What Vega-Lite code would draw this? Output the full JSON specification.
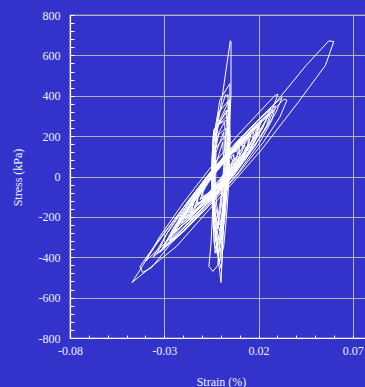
{
"$schema": "https://vega.github.io/schema/vega-lite/v6.json",
"width": 296, "height": 323,
"autosize": {"type": "none"},
"padding": {"left": 70, "top": 15, "right": 0, "bottom": 49},
"background": "#3333cc",
"config": {"view": {"stroke": "white", "strokeWidth": 1.2, "fill": "#3333cc"}, "font": "Liberation Serif"},
"data": {"values": [
{"k":1,"i":0,"x":-0.0471,"y":-525},{"k":1,"i":1,"x":-0.0235,"y":-346},{"k":1,"i":2,"x":-0.0008,"y":-107},{"k":1,"i":3,"x":0.0215,"y":132},{"k":1,"i":4,"x":0.0413,"y":371},{"k":1,"i":5,"x":0.0555,"y":551},{"k":1,"i":6,"x":0.0599,"y":668},{"k":1,"i":7,"x":0.0573,"y":672},{"k":1,"i":8,"x":0.0453,"y":551},{"k":1,"i":9,"x":0.0295,"y":371},{"k":1,"i":10,"x":0.0045,"y":132},{"k":1,"i":11,"x":-0.0161,"y":-107},{"k":1,"i":12,"x":-0.035,"y":-346},{"k":1,"i":13,"x":-0.0471,"y":-525},
{"k":2,"i":0,"x":-0.0367,"y":-451},{"k":2,"i":1,"x":-0.0268,"y":-335},{"k":2,"i":2,"x":-0.0084,"y":-167},{"k":2,"i":3,"x":0.008,"y":0},{"k":2,"i":4,"x":0.0224,"y":168},{"k":2,"i":5,"x":0.0313,"y":294},{"k":2,"i":6,"x":0.0351,"y":378},{"k":2,"i":7,"x":0.0335,"y":383},{"k":2,"i":8,"x":0.0243,"y":294},{"k":2,"i":9,"x":0.0105,"y":168},{"k":2,"i":10,"x":-0.006,"y":0},{"k":2,"i":11,"x":-0.021,"y":-167},{"k":2,"i":12,"x":-0.0345,"y":-335},{"k":2,"i":13,"x":-0.0429,"y":-446},{"k":2,"i":14,"x":-0.0415,"y":-475},{"k":2,"i":15,"x":-0.0367,"y":-451},
{"k":3,"i":0,"x":-0.04,"y":-420},{"k":3,"i":1,"x":-0.0257,"y":-296},{"k":3,"i":2,"x":-0.0091,"y":-131},{"k":3,"i":3,"x":0.0057,"y":34},{"k":3,"i":4,"x":0.0187,"y":200},{"k":3,"i":5,"x":0.0268,"y":323},{"k":3,"i":6,"x":0.0303,"y":406},{"k":3,"i":7,"x":0.029,"y":404},{"k":3,"i":8,"x":0.0208,"y":323},{"k":3,"i":9,"x":0.0085,"y":200},{"k":3,"i":10,"x":-0.0063,"y":34},{"k":3,"i":11,"x":-0.0199,"y":-131},{"k":3,"i":12,"x":-0.0323,"y":-296},{"k":3,"i":13,"x":-0.04,"y":-420},
{"k":4,"i":0,"x":-0.0323,"y":-376},{"k":4,"i":1,"x":-0.02,"y":-270},{"k":4,"i":2,"x":-0.0058,"y":-129},{"k":4,"i":3,"x":0.0069,"y":12},{"k":4,"i":4,"x":0.018,"y":154},{"k":4,"i":5,"x":0.025,"y":259},{"k":4,"i":6,"x":0.028,"y":330},{"k":4,"i":7,"x":0.0198,"y":259},{"k":4,"i":8,"x":0.0091,"y":154},{"k":4,"i":9,"x":-0.0036,"y":12},{"k":4,"i":10,"x":-0.0153,"y":-129},{"k":4,"i":11,"x":-0.0258,"y":-270},{"k":4,"i":12,"x":-0.0323,"y":-376},
{"k":5,"i":0,"x":-0.03,"y":-345},{"k":5,"i":1,"x":-0.0185,"y":-247},{"k":5,"i":2,"x":-0.0054,"y":-116},{"k":5,"i":3,"x":0.0063,"y":15},{"k":5,"i":4,"x":0.0164,"y":146},{"k":5,"i":5,"x":0.0225,"y":245},{"k":5,"i":6,"x":0.025,"y":310},{"k":5,"i":7,"x":0.0175,"y":245},{"k":5,"i":8,"x":0.0079,"y":146},{"k":5,"i":9,"x":-0.0037,"y":15},{"k":5,"i":10,"x":-0.0144,"y":-116},{"k":5,"i":11,"x":-0.024,"y":-247},{"k":5,"i":12,"x":-0.03,"y":-345},
{"k":6,"i":0,"x":-0.026,"y":-290},{"k":6,"i":1,"x":-0.0162,"y":-207},{"k":6,"i":2,"x":-0.0051,"y":-96},{"k":6,"i":3,"x":0.0049,"y":15},{"k":6,"i":4,"x":0.0135,"y":126},{"k":6,"i":5,"x":0.0188,"y":210},{"k":6,"i":6,"x":0.021,"y":265},{"k":6,"i":7,"x":0.0143,"y":210},{"k":6,"i":8,"x":0.0059,"y":126},{"k":6,"i":9,"x":-0.0041,"y":15},{"k":6,"i":10,"x":-0.0132,"y":-96},{"k":6,"i":11,"x":-0.0212,"y":-207},{"k":6,"i":12,"x":-0.026,"y":-290},
{"k":7,"i":0,"x":-0.023,"y":-250},{"k":7,"i":1,"x":-0.0139,"y":-177},{"k":7,"i":2,"x":-0.0038,"y":-80},{"k":7,"i":3,"x":0.0051,"y":17},{"k":7,"i":4,"x":0.0127,"y":114},{"k":7,"i":5,"x":0.0173,"y":187},{"k":7,"i":6,"x":0.019,"y":235},{"k":7,"i":7,"x":0.0131,"y":187},{"k":7,"i":8,"x":0.0055,"y":114},{"k":7,"i":9,"x":-0.0034,"y":17},{"k":7,"i":10,"x":-0.0115,"y":-80},{"k":7,"i":11,"x":-0.0186,"y":-177},{"k":7,"i":12,"x":-0.023,"y":-250},
{"k":8,"i":0,"x":-0.02,"y":-215},{"k":8,"i":1,"x":-0.0121,"y":-152},{"k":8,"i":2,"x":-0.0034,"y":-68},{"k":8,"i":3,"x":0.0043,"y":16},{"k":8,"i":4,"x":0.0108,"y":100},{"k":8,"i":5,"x":0.0147,"y":163},{"k":8,"i":6,"x":0.016,"y":205},{"k":8,"i":7,"x":0.0107,"y":163},{"k":8,"i":8,"x":0.004,"y":100},{"k":8,"i":9,"x":-0.0037,"y":16},{"k":8,"i":10,"x":-0.0106,"y":-68},{"k":8,"i":11,"x":-0.0165,"y":-152},{"k":8,"i":12,"x":-0.02,"y":-215},
{"k":9,"i":0,"x":-0.017,"y":-180},{"k":9,"i":1,"x":-0.0103,"y":-127},{"k":9,"i":2,"x":-0.0029,"y":-56},{"k":9,"i":3,"x":0.0035,"y":15},{"k":9,"i":4,"x":0.0089,"y":86},{"k":9,"i":5,"x":0.012,"y":140},{"k":9,"i":6,"x":0.013,"y":175},{"k":9,"i":7,"x":0.0085,"y":140},{"k":9,"i":8,"x":0.003,"y":86},{"k":9,"i":9,"x":-0.0035,"y":15},{"k":9,"i":10,"x":-0.0092,"y":-56},{"k":9,"i":11,"x":-0.0142,"y":-127},{"k":9,"i":12,"x":-0.017,"y":-180},
{"k":10,"i":0,"x":-0.014,"y":-150},{"k":10,"i":1,"x":-0.0085,"y":-106},{"k":10,"i":2,"x":-0.0024,"y":-47},{"k":10,"i":3,"x":0.0027,"y":12},{"k":10,"i":4,"x":0.007,"y":71},{"k":10,"i":5,"x":0.0094,"y":116},{"k":10,"i":6,"x":0.01,"y":145},{"k":10,"i":7,"x":0.0061,"y":116},{"k":10,"i":8,"x":0.0015,"y":71},{"k":10,"i":9,"x":-0.0038,"y":12},{"k":10,"i":10,"x":-0.0083,"y":-47},{"k":10,"i":11,"x":-0.0121,"y":-106},{"k":10,"i":12,"x":-0.014,"y":-150},
{"k":11,"i":0,"x":-0.011,"y":-115},{"k":11,"i":1,"x":-0.0066,"y":-81},{"k":11,"i":2,"x":-0.002,"y":-36},{"k":11,"i":3,"x":0.0019,"y":9},{"k":11,"i":4,"x":0.0051,"y":54},{"k":11,"i":5,"x":0.0067,"y":88},{"k":11,"i":6,"x":0.007,"y":110},{"k":11,"i":7,"x":0.004,"y":88},{"k":11,"i":8,"x":0.0004,"y":54},{"k":11,"i":9,"x":-0.0036,"y":9},{"k":11,"i":10,"x":-0.007,"y":-36},{"k":11,"i":11,"x":-0.0097,"y":-81},{"k":11,"i":12,"x":-0.011,"y":-115},
{"k":12,"i":0,"x":-0.036,"y":-400},{"k":12,"i":1,"x":-0.0221,"y":-281},{"k":12,"i":2,"x":-0.0061,"y":-123},{"k":12,"i":3,"x":0.0082,"y":36},{"k":12,"i":4,"x":0.0209,"y":194},{"k":12,"i":5,"x":0.029,"y":313},{"k":12,"i":6,"x":0.0325,"y":392},{"k":12,"i":7,"x":0.0232,"y":313},{"k":12,"i":8,"x":0.0112,"y":194},{"k":12,"i":9,"x":-0.0033,"y":36},{"k":12,"i":10,"x":-0.0165,"y":-123},{"k":12,"i":11,"x":-0.0285,"y":-281},{"k":12,"i":12,"x":-0.036,"y":-400},
{"k":13,"i":0,"x":-0.0275,"y":-320},{"k":13,"i":1,"x":-0.0164,"y":-221},{"k":13,"i":2,"x":-0.0036,"y":-89},{"k":13,"i":3,"x":0.0077,"y":43},{"k":13,"i":4,"x":0.0177,"y":175},{"k":13,"i":5,"x":0.0239,"y":274},{"k":13,"i":6,"x":0.0265,"y":340},{"k":13,"i":7,"x":0.0191,"y":274},{"k":13,"i":8,"x":0.0096,"y":175},{"k":13,"i":9,"x":-0.0018,"y":43},{"k":13,"i":10,"x":-0.0122,"y":-89},{"k":13,"i":11,"x":-0.0216,"y":-221},{"k":13,"i":12,"x":-0.0275,"y":-320},
{"k":14,"i":0,"x":-0.024,"y":-270},{"k":14,"i":1,"x":-0.0138,"y":-192},{"k":14,"i":2,"x":-0.0027,"y":-88},{"k":14,"i":3,"x":0.0067,"y":16},{"k":14,"i":4,"x":0.0145,"y":120},{"k":14,"i":5,"x":0.0189,"y":198},{"k":14,"i":6,"x":0.02,"y":250},{"k":14,"i":7,"x":0.0131,"y":198},{"k":14,"i":8,"x":0.0048,"y":120},{"k":14,"i":9,"x":-0.0048,"y":16},{"k":14,"i":10,"x":-0.0131,"y":-88},{"k":14,"i":11,"x":-0.0202,"y":-192},{"k":14,"i":12,"x":-0.024,"y":-270},
{"k":15,"i":0,"x":-0.018,"y":-200},{"k":15,"i":1,"x":-0.0098,"y":-141},{"k":15,"i":2,"x":-0.0012,"y":-64},{"k":15,"i":3,"x":0.0059,"y":15},{"k":15,"i":4,"x":0.0115,"y":93},{"k":15,"i":5,"x":0.0143,"y":151},{"k":15,"i":6,"x":0.0145,"y":190},{"k":15,"i":7,"x":0.0088,"y":151},{"k":15,"i":8,"x":0.0022,"y":93},{"k":15,"i":9,"x":-0.0051,"y":15},{"k":15,"i":10,"x":-0.0111,"y":-64},{"k":15,"i":11,"x":-0.0159,"y":-141},{"k":15,"i":12,"x":-0.018,"y":-200},
{"k":16,"i":0,"x":-0.0125,"y":-135},{"k":16,"i":1,"x":-0.0066,"y":-95},{"k":16,"i":2,"x":-0.0007,"y":-42},{"k":16,"i":3,"x":0.004,"y":11},{"k":16,"i":4,"x":0.0076,"y":64},{"k":16,"i":5,"x":0.0089,"y":104},{"k":16,"i":6,"x":0.0085,"y":130},{"k":16,"i":7,"x":0.0042,"y":104},{"k":16,"i":8,"x":-0.0005,"y":64},{"k":16,"i":9,"x":-0.0055,"y":11},{"k":16,"i":10,"x":-0.0093,"y":-42},{"k":16,"i":11,"x":-0.0119,"y":-95},{"k":16,"i":12,"x":-0.0125,"y":-135},
{"k":17,"i":0,"x":-0.0095,"y":-100},{"k":17,"i":1,"x":-0.0048,"y":-71},{"k":17,"i":2,"x":-0.0002,"y":-32},{"k":17,"i":3,"x":0.0032,"y":7},{"k":17,"i":4,"x":0.0056,"y":46},{"k":17,"i":5,"x":0.0063,"y":76},{"k":17,"i":6,"x":0.0055,"y":95},{"k":17,"i":7,"x":0.002,"y":76},{"k":17,"i":8,"x":-0.0016,"y":46},{"k":17,"i":9,"x":-0.0053,"y":7},{"k":17,"i":10,"x":-0.0079,"y":-32},{"k":17,"i":11,"x":-0.0095,"y":-71},{"k":17,"i":12,"x":-0.0095,"y":-100},
{"k":18,"i":0,"x":-0.031,"y":-360},{"k":18,"i":1,"x":-0.0186,"y":-258},{"k":18,"i":2,"x":-0.0046,"y":-122},{"k":18,"i":3,"x":0.0076,"y":14},{"k":18,"i":4,"x":0.0181,"y":150},{"k":18,"i":5,"x":0.0243,"y":252},{"k":18,"i":6,"x":0.0265,"y":320},{"k":18,"i":7,"x":0.018,"y":252},{"k":18,"i":8,"x":0.0074,"y":150},{"k":18,"i":9,"x":-0.0049,"y":14},{"k":18,"i":10,"x":-0.0159,"y":-122},{"k":18,"i":11,"x":-0.0254,"y":-258},{"k":18,"i":12,"x":-0.031,"y":-360},
{"k":19,"i":0,"x":-0.021,"y":-235},{"k":19,"i":1,"x":-0.0122,"y":-167},{"k":19,"i":2,"x":-0.0025,"y":-76},{"k":19,"i":3,"x":0.0057,"y":15},{"k":19,"i":4,"x":0.0126,"y":106},{"k":19,"i":5,"x":0.0165,"y":175},{"k":19,"i":6,"x":0.0175,"y":220},{"k":19,"i":7,"x":0.0115,"y":175},{"k":19,"i":8,"x":0.0041,"y":106},{"k":19,"i":9,"x":-0.0043,"y":15},{"k":19,"i":10,"x":-0.0116,"y":-76},{"k":19,"i":11,"x":-0.0177,"y":-167},{"k":19,"i":12,"x":-0.021,"y":-235},
{"k":20,"i":0,"x":-0.0155,"y":-165},{"k":20,"i":1,"x":-0.0087,"y":-116},{"k":20,"i":2,"x":-0.0016,"y":-51},{"k":20,"i":3,"x":0.0043,"y":14},{"k":20,"i":4,"x":0.009,"y":79},{"k":20,"i":5,"x":0.0113,"y":128},{"k":20,"i":6,"x":0.0115,"y":160},{"k":20,"i":7,"x":0.0068,"y":128},{"k":20,"i":8,"x":0.0014,"y":79},{"k":20,"i":9,"x":-0.0047,"y":14},{"k":20,"i":10,"x":-0.0097,"y":-51},{"k":20,"i":11,"x":-0.0137,"y":-116},{"k":20,"i":12,"x":-0.0155,"y":-165},
{"k":33,"i":0,"x":-0.022,"y":-235},{"k":33,"i":1,"x":-0.0148,"y":-168},{"k":33,"i":2,"x":-0.0062,"y":-78},{"k":33,"i":3,"x":0.0016,"y":13},{"k":33,"i":4,"x":0.0087,"y":103},{"k":33,"i":5,"x":0.0133,"y":170},{"k":33,"i":6,"x":0.0155,"y":215},{"k":33,"i":7,"x":0.0108,"y":170},{"k":33,"i":8,"x":0.0044,"y":103},{"k":33,"i":9,"x":-0.0034,"y":13},{"k":33,"i":10,"x":-0.0107,"y":-78},{"k":33,"i":11,"x":-0.0175,"y":-168},{"k":33,"i":12,"x":-0.022,"y":-235},
{"k":34,"i":0,"x":-0.027,"y":-300},{"k":34,"i":1,"x":-0.0172,"y":-213},{"k":34,"i":2,"x":-0.0058,"y":-97},{"k":34,"i":3,"x":0.0044,"y":19},{"k":34,"i":4,"x":0.0136,"y":135},{"k":34,"i":5,"x":0.0194,"y":222},{"k":34,"i":6,"x":0.022,"y":280},{"k":34,"i":7,"x":0.0156,"y":222},{"k":34,"i":8,"x":0.0073,"y":135},{"k":34,"i":9,"x":-0.0031,"y":19},{"k":34,"i":10,"x":-0.0126,"y":-97},{"k":34,"i":11,"x":-0.0214,"y":-213},{"k":34,"i":12,"x":-0.027,"y":-300},
{"k":35,"i":0,"x":-0.016,"y":-180},{"k":35,"i":1,"x":-0.0081,"y":-128},{"k":35,"i":2,"x":-0.0001,"y":-59},{"k":35,"i":3,"x":0.0062,"y":10},{"k":35,"i":4,"x":0.0109,"y":79},{"k":35,"i":5,"x":0.013,"y":131},{"k":35,"i":6,"x":0.0125,"y":165},{"k":35,"i":7,"x":0.0069,"y":131},{"k":35,"i":8,"x":0.0007,"y":79},{"k":35,"i":9,"x":-0.0058,"y":10},{"k":35,"i":10,"x":-0.011,"y":-59},{"k":35,"i":11,"x":-0.0147,"y":-128},{"k":35,"i":12,"x":-0.016,"y":-180},
{"k":36,"i":0,"x":-0.013,"y":-140},{"k":36,"i":1,"x":-0.0066,"y":-99},{"k":36,"i":2,"x":-0.0001,"y":-44},{"k":36,"i":3,"x":0.0049,"y":11},{"k":36,"i":4,"x":0.0086,"y":66},{"k":36,"i":5,"x":0.0101,"y":108},{"k":36,"i":6,"x":0.0095,"y":135},{"k":36,"i":7,"x":0.0048,"y":108},{"k":36,"i":8,"x":-0.0004,"y":66},{"k":36,"i":9,"x":-0.0056,"y":11},{"k":36,"i":10,"x":-0.0096,"y":-44},{"k":36,"i":11,"x":-0.0124,"y":-99},{"k":36,"i":12,"x":-0.013,"y":-140},
{"k":37,"i":0,"x":-0.025,"y":-275},{"k":37,"i":1,"x":-0.0142,"y":-197},{"k":37,"i":2,"x":-0.0027,"y":-93},{"k":37,"i":3,"x":0.007,"y":11},{"k":37,"i":4,"x":0.0148,"y":115},{"k":37,"i":5,"x":0.0189,"y":193},{"k":37,"i":6,"x":0.0195,"y":245},{"k":37,"i":7,"x":0.0121,"y":193},{"k":37,"i":8,"x":0.0033,"y":115},{"k":37,"i":9,"x":-0.0065,"y":11},{"k":37,"i":10,"x":-0.0148,"y":-93},{"k":37,"i":11,"x":-0.0216,"y":-197},{"k":37,"i":12,"x":-0.025,"y":-275},
{"k":38,"i":0,"x":-0.019,"y":-210},{"k":38,"i":1,"x":-0.0103,"y":-149},{"k":38,"i":2,"x":-0.0012,"y":-68},{"k":38,"i":3,"x":0.0062,"y":13},{"k":38,"i":4,"x":0.012,"y":94},{"k":38,"i":5,"x":0.0149,"y":155},{"k":38,"i":6,"x":0.015,"y":195},{"k":38,"i":7,"x":0.0088,"y":155},{"k":38,"i":8,"x":0.0018,"y":94},{"k":38,"i":9,"x":-0.0058,"y":13},{"k":38,"i":10,"x":-0.0121,"y":-68},{"k":38,"i":11,"x":-0.0169,"y":-149},{"k":38,"i":12,"x":-0.019,"y":-210},
{"k":39,"i":0,"x":-0.034,"y":-385},{"k":39,"i":1,"x":-0.0199,"y":-275},{"k":39,"i":2,"x":-0.0044,"y":-128},{"k":39,"i":3,"x":0.0092,"y":19},{"k":39,"i":4,"x":0.0205,"y":166},{"k":39,"i":5,"x":0.027,"y":277},{"k":39,"i":6,"x":0.029,"y":350},{"k":39,"i":7,"x":0.0195,"y":277},{"k":39,"i":8,"x":0.0078,"y":166},{"k":39,"i":9,"x":-0.0058,"y":19},{"k":39,"i":10,"x":-0.0179,"y":-128},{"k":39,"i":11,"x":-0.0282,"y":-275},{"k":39,"i":12,"x":-0.034,"y":-385},
{"k":40,"i":0,"x":-0.01,"y":-110},{"k":40,"i":1,"x":-0.0048,"y":-78},{"k":40,"i":2,"x":0.0003,"y":-35},{"k":40,"i":3,"x":0.0041,"y":8},{"k":40,"i":4,"x":0.0067,"y":51},{"k":40,"i":5,"x":0.0074,"y":84},{"k":40,"i":6,"x":0.0065,"y":105},{"k":40,"i":7,"x":0.0029,"y":84},{"k":40,"i":8,"x":-0.001,"y":51},{"k":40,"i":9,"x":-0.0054,"y":8},{"k":40,"i":10,"x":-0.0083,"y":-35},{"k":40,"i":11,"x":-0.01,"y":-78},{"k":40,"i":12,"x":-0.01,"y":-110},
{"k":21,"i":0,"x":0.0001,"y":-525},{"k":21,"i":1,"x":0.0008,"y":-380},{"k":21,"i":2,"x":0.0015,"y":-200},{"k":21,"i":3,"x":0.003,"y":0},{"k":21,"i":4,"x":0.0042,"y":200},{"k":21,"i":5,"x":0.0054,"y":400},{"k":21,"i":6,"x":0.0054,"y":669},{"k":21,"i":7,"x":0.005,"y":672},{"k":21,"i":8,"x":0.0009,"y":406},{"k":21,"i":9,"x":-0.0026,"y":198},{"k":21,"i":10,"x":-0.004,"y":0},{"k":21,"i":11,"x":-0.003,"y":-200},{"k":21,"i":12,"x":-0.0018,"y":-330},{"k":21,"i":13,"x":-0.001,"y":-440},{"k":21,"i":14,"x":0.0001,"y":-525},
{"k":22,"i":0,"x":0.0025,"y":406},{"k":22,"i":1,"x":0.0031,"y":396},{"k":22,"i":2,"x":0.0038,"y":406},{"k":22,"i":3,"x":0.0038,"y":300},{"k":22,"i":4,"x":0.0036,"y":200},{"k":22,"i":5,"x":0.0025,"y":0},{"k":22,"i":6,"x":0.0008,"y":-200},{"k":22,"i":7,"x":-0.001,"y":-350},{"k":22,"i":8,"x":-0.0016,"y":-440},{"k":22,"i":9,"x":-0.0042,"y":-470},{"k":22,"i":10,"x":-0.0063,"y":-445},{"k":22,"i":11,"x":-0.0052,"y":-330},{"k":22,"i":12,"x":-0.0045,"y":-200},{"k":22,"i":13,"x":-0.0042,"y":0},{"k":22,"i":14,"x":-0.0042,"y":100},{"k":22,"i":15,"x":-0.004,"y":195},{"k":22,"i":16,"x":-0.0015,"y":290},{"k":22,"i":17,"x":0.0025,"y":406},
{"k":23,"i":0,"x":0.003,"y":330},{"k":23,"i":1,"x":0.0034,"y":200},{"k":23,"i":2,"x":0.0024,"y":0},{"k":23,"i":3,"x":0.0005,"y":-200},{"k":23,"i":4,"x":-0.001,"y":-300},{"k":23,"i":5,"x":-0.003,"y":-380},{"k":23,"i":6,"x":-0.004,"y":-250},{"k":23,"i":7,"x":-0.004,"y":-100},{"k":23,"i":8,"x":-0.0035,"y":100},{"k":23,"i":9,"x":-0.0015,"y":250},{"k":23,"i":10,"x":0.003,"y":330},
{"k":24,"i":0,"x":0.002,"y":270},{"k":24,"i":1,"x":0.0028,"y":150},{"k":24,"i":2,"x":0.0018,"y":0},{"k":24,"i":3,"x":0.0002,"y":-150},{"k":24,"i":4,"x":-0.0015,"y":-260},{"k":24,"i":5,"x":-0.0025,"y":-320},{"k":24,"i":6,"x":-0.0035,"y":-200},{"k":24,"i":7,"x":-0.0037,"y":-50},{"k":24,"i":8,"x":-0.003,"y":120},{"k":24,"i":9,"x":-0.001,"y":220},{"k":24,"i":10,"x":0.002,"y":270},
{"k":25,"i":0,"x":0.0015,"y":220},{"k":25,"i":1,"x":0.0022,"y":100},{"k":25,"i":2,"x":0.0012,"y":-30},{"k":25,"i":3,"x":-0.0002,"y":-150},{"k":25,"i":4,"x":-0.002,"y":-260},{"k":25,"i":5,"x":-0.0032,"y":-150},{"k":25,"i":6,"x":-0.0032,"y":0},{"k":25,"i":7,"x":-0.0025,"y":120},{"k":25,"i":8,"x":0.0015,"y":220},
{"k":26,"i":0,"x":0.001,"y":170},{"k":26,"i":1,"x":0.0016,"y":60},{"k":26,"i":2,"x":0.0006,"y":-70},{"k":26,"i":3,"x":-0.0015,"y":-200},{"k":26,"i":4,"x":-0.0028,"y":-80},{"k":26,"i":5,"x":-0.0026,"y":60},{"k":26,"i":6,"x":0.001,"y":170},
{"k":27,"i":0,"x":0.004,"y":370},{"k":27,"i":1,"x":0.0043,"y":250},{"k":27,"i":2,"x":0.0035,"y":60},{"k":27,"i":3,"x":0.0015,"y":-150},{"k":27,"i":4,"x":0.0,"y":-300},{"k":27,"i":5,"x":-0.0012,"y":-400},{"k":27,"i":6,"x":-0.003,"y":-300},{"k":27,"i":7,"x":-0.0038,"y":-120},{"k":27,"i":8,"x":-0.0036,"y":80},{"k":27,"i":9,"x":-0.002,"y":250},{"k":27,"i":10,"x":0.004,"y":370},
{"k":28,"i":0,"x":0.0045,"y":380},{"k":28,"i":1,"x":0.0048,"y":250},{"k":28,"i":2,"x":0.004,"y":80},{"k":28,"i":3,"x":0.0025,"y":-100},{"k":28,"i":4,"x":0.001,"y":-280},{"k":28,"i":5,"x":-0.0005,"y":-420},{"k":28,"i":6,"x":-0.0035,"y":-330},{"k":28,"i":7,"x":-0.0045,"y":-150},{"k":28,"i":8,"x":-0.0046,"y":50},{"k":28,"i":9,"x":-0.004,"y":200},{"k":28,"i":10,"x":-0.001,"y":320},{"k":28,"i":11,"x":0.0045,"y":380},
{"k":29,"i":0,"x":0.0035,"y":300},{"k":29,"i":1,"x":0.0045,"y":180},{"k":29,"i":2,"x":0.0035,"y":0},{"k":29,"i":3,"x":0.0018,"y":-180},{"k":29,"i":4,"x":0.0,"y":-330},{"k":29,"i":5,"x":-0.004,"y":-220},{"k":29,"i":6,"x":-0.0046,"y":-40},{"k":29,"i":7,"x":-0.0044,"y":130},{"k":29,"i":8,"x":-0.002,"y":250},{"k":29,"i":9,"x":0.0035,"y":300},
{"k":30,"i":0,"x":0.0028,"y":240},{"k":30,"i":1,"x":0.004,"y":120},{"k":30,"i":2,"x":0.003,"y":-30},{"k":30,"i":3,"x":0.0012,"y":-180},{"k":30,"i":4,"x":-0.0005,"y":-270},{"k":30,"i":5,"x":-0.0038,"y":-160},{"k":30,"i":6,"x":-0.0042,"y":0},{"k":30,"i":7,"x":-0.0036,"y":140},{"k":30,"i":8,"x":-0.001,"y":210},{"k":30,"i":9,"x":0.0028,"y":240},
{"k":31,"i":0,"x":0.0022,"y":200},{"k":31,"i":1,"x":0.0033,"y":80},{"k":31,"i":2,"x":0.0022,"y":-60},{"k":31,"i":3,"x":0.0005,"y":-200},{"k":31,"i":4,"x":-0.0008,"y":-240},{"k":31,"i":5,"x":-0.0034,"y":-120},{"k":31,"i":6,"x":-0.0036,"y":30},{"k":31,"i":7,"x":-0.0028,"y":140},{"k":31,"i":8,"x":0.0022,"y":200},
{"k":32,"i":0,"x":0.0048,"y":460},{"k":32,"i":1,"x":0.0048,"y":300},{"k":32,"i":2,"x":0.0042,"y":120},{"k":32,"i":3,"x":0.0028,"y":-80},{"k":32,"i":4,"x":0.0012,"y":-280},{"k":32,"i":5,"x":0.0003,"y":-460},{"k":32,"i":6,"x":-0.002,"y":-380},{"k":32,"i":7,"x":-0.0036,"y":-200},{"k":32,"i":8,"x":-0.0044,"y":0},{"k":32,"i":9,"x":-0.0036,"y":200},{"k":32,"i":10,"x":-0.0005,"y":380},{"k":32,"i":11,"x":0.0048,"y":460},
{"k":41,"i":0,"x":0.004,"y":330},{"k":41,"i":1,"x":0.005,"y":200},{"k":41,"i":2,"x":0.0045,"y":0},{"k":41,"i":3,"x":0.003,"y":-200},{"k":41,"i":4,"x":0.0015,"y":-350},{"k":41,"i":5,"x":0.0005,"y":-380},{"k":41,"i":6,"x":-0.003,"y":-280},{"k":41,"i":7,"x":-0.0048,"y":-100},{"k":41,"i":8,"x":-0.0048,"y":80},{"k":41,"i":9,"x":-0.0038,"y":230},{"k":41,"i":10,"x":0.004,"y":330},
{"k":42,"i":0,"x":0.0032,"y":280},{"k":42,"i":1,"x":0.0044,"y":160},{"k":42,"i":2,"x":0.0038,"y":-20},{"k":42,"i":3,"x":0.0022,"y":-200},{"k":42,"i":4,"x":0.0005,"y":-310},{"k":42,"i":5,"x":-0.0025,"y":-300},{"k":42,"i":6,"x":-0.0044,"y":-150},{"k":42,"i":7,"x":-0.0047,"y":20},{"k":42,"i":8,"x":-0.0042,"y":170},{"k":42,"i":9,"x":-0.001,"y":260},{"k":42,"i":10,"x":0.0032,"y":280}
]},
"mark": {"type": "line", "color": "white", "strokeWidth": 1, "clip": true},
"encoding": {
"x": {"field": "x", "type": "quantitative",
 "scale": {"domain": [-0.08, 0.077], "nice": false, "zero": false},
 "axis": {
  "values": [-0.08,-0.07,-0.06,-0.05,-0.04,-0.03,-0.02,-0.01,0,0.01,0.02,0.03,0.04,0.05,0.06,0.07],
  "title": "Strain (%)",
  "grid": true, "gridColor": "#b4b4b4", "gridWidth": 1,
  "gridOpacity": {"condition": {"test": "abs((datum.value+0.08)/0.05 - round((datum.value+0.08)/0.05)) < 0.01", "value": 1}, "value": 0},
  "domainColor": "white", "domainWidth": 1.2, "tickColor": "white", "tickSize": -3, "tickWidth": 1,
  "labelExpr": "abs((datum.value+0.08)/0.05 - round((datum.value+0.08)/0.05)) < 0.01 ? (datum.value < 0 ? '-' + format(abs(datum.value), '.2f') : format(datum.value, '.2f')) : ''",
  "labelColor": "#f0f0ff", "labelFont": "Liberation Serif", "labelFontSize": 12, "labelPadding": 10,
  "labelFlush": false, "labelOverlap": false,
  "titleColor": "#f0f0ff", "titleFont": "Liberation Serif", "titleFontSize": 12, "titleFontWeight": "normal",
  "titleX": 151, "titleY": 43, "titleBaseline": "middle"
 }},
"y": {"field": "y", "type": "quantitative",
 "scale": {"domain": [-800, 800], "nice": false, "zero": false},
 "axis": {
  "values": [-800,-760,-720,-680,-640,-600,-560,-520,-480,-440,-400,-360,-320,-280,-240,-200,-160,-120,-80,-40,0,40,80,120,160,200,240,280,320,360,400,440,480,520,560,600,640,680,720,760,800],
  "title": "Stress (kPa)",
  "grid": true, "gridColor": "#b4b4b4", "gridWidth": 1,
  "gridOpacity": {"condition": {"test": "datum.value % 200 === 0", "value": 1}, "value": 0},
  "domainColor": "white", "domainWidth": 1.2, "tickColor": "white", "tickSize": -4, "tickWidth": 1,
  "labelExpr": "datum.value % 200 === 0 ? (datum.value < 0 ? '-' + format(abs(datum.value), 'd') : format(datum.value, 'd')) : ''",
  "labelColor": "#f0f0ff", "labelFont": "Liberation Serif", "labelFontSize": 12, "labelPadding": 14,
  "labelFlush": false, "labelOverlap": false,
  "titleColor": "#f0f0ff", "titleFont": "Liberation Serif", "titleFontSize": 12, "titleFontWeight": "normal",
  "titleX": -53, "titleY": 162, "titleAngle": -90, "titleBaseline": "middle", "titleAlign": "center"
 }},
"detail": {"field": "k"},
"order": {"field": "i"}
}
}
